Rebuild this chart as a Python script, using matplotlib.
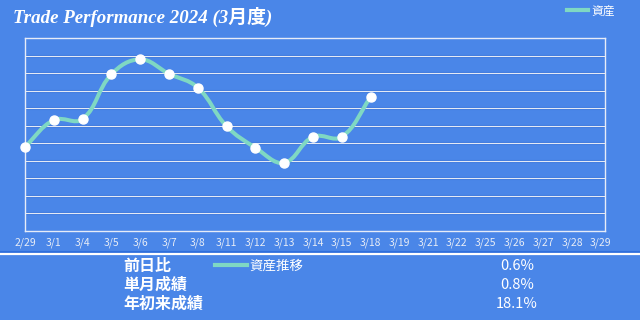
import numpy as np
import matplotlib
matplotlib.use("Agg")
import matplotlib.pyplot as plt
from matplotlib.path import Path
from matplotlib.patches import PathPatch
from matplotlib.lines import Line2D

# data
dates = ["2/29", "3/1", "3/4", "3/5", "3/6", "3/7", "3/8", "3/11", "3/12",
         "3/13", "3/14", "3/15", "3/18", "3/19", "3/21", "3/22", "3/25",
         "3/26", "3/27", "3/28", "3/29"]
assets = [4.80, 6.32, 6.38, 8.93, 9.78, 8.96, 8.17, 5.97, 4.75, 3.89,
          5.37, 5.37, 7.62]
row_labels = ["前日比", "単月成績", "年初来成績"]
row_values = ["0.6%", "0.8%", "18.1%"]

BG = "#4a86e8"
LINE = "#7fd8c3"
CJK = ["Noto Sans CJK JP", "DejaVu Sans"]


def spline_path(ax, xs, ys, t=0.4):
    # chart.js style tension curve, computed in pixel space
    pts = ax.transData.transform(np.column_stack([xs, ys]))
    n = len(pts)
    cps = []
    for i in range(n):
        prev, cur, nxt = pts[max(i - 1, 0)], pts[i], pts[min(i + 1, n - 1)]
        d01 = np.hypot(*(cur - prev))
        d12 = np.hypot(*(nxt - cur))
        s = d01 + d12
        s01 = d01 / s if s else 0
        s12 = d12 / s if s else 0
        cps.append((cur - t * s01 * (nxt - prev), cur + t * s12 * (nxt - prev)))
    verts = [pts[0]]
    codes = [Path.MOVETO]
    for i in range(1, n):
        verts += [cps[i - 1][1], cps[i][0], pts[i]]
        codes += [Path.CURVE4] * 3
    verts = ax.transData.inverted().transform(np.array(verts))
    return Path(verts, codes)


fig = plt.figure(figsize=(6.4, 3.2), dpi=100, facecolor=BG)
ax = fig.add_axes([25 / 640, 89 / 320, 580 / 640, 193 / 320])
ax.set_facecolor(BG)
ax.set_xlim(0, len(dates) - 1 + 0.14)
ax.set_ylim(0, 11)

# grid
for g in range(1, 11):
    ax.axhline(g, color="#2f6fdc", lw=2.2, zorder=1)
    ax.axhline(g, color="#e4eaf5", lw=0.9, zorder=1.1)
for s in ax.spines.values():
    s.set_color("#e6ecf8")
    s.set_linewidth(1.0)

ax.set_xticks(range(len(dates)))
ax.set_xticklabels(dates, fontsize=7.5, color="#e8edf6", family=CJK)
ax.set_yticks([])
ax.tick_params(axis="x", length=0, pad=5)

xs = np.arange(len(assets))
ax.add_patch(PathPatch(spline_path(ax, xs, assets), fill=False,
                       edgecolor=LINE, lw=2.9, capstyle="round", zorder=3))
ax.plot(xs, assets, ls="none", marker="o", ms=6.5, mfc="white",
        mec="white", zorder=4, clip_on=False)

# title
fig.text(13 / 640, 1 - 22.5 / 320, "Trade Performance 2024 (3月度)",
         fontsize=13.6, fontstyle="italic", fontweight="bold", color="white",
         family=["Liberation Serif", "Noto Sans CJK JP"], va="baseline")

# top legend
h = Line2D([], [], color=LINE, lw=3)
fig.legend([h], ["資産"], loc="center left",
           bbox_to_anchor=(567 / 640, 1 - 11 / 320), frameon=False,
           borderpad=0, borderaxespad=0, handlelength=1.8,
           handletextpad=0.25, prop={"family": CJK, "size": 8.5},
           labelcolor="white")

# separator
fig.add_artist(Line2D([0, 1], [1 - 252 / 320] * 2, color="#2f6fdc", lw=1.5,
                      transform=fig.transFigure))
fig.add_artist(Line2D([0, 1], [1 - 254 / 320] * 2, color="white", lw=1.6,
                      transform=fig.transFigure))

# table
row_y = [266, 285, 304]
for lab, val, y in zip(row_labels, row_values, row_y):
    fig.text(123 / 640, 1 - y / 320, lab, fontsize=11.5, fontweight="bold",
             color="white", family=CJK, va="center")
    fig.text(517 / 640, 1 - y / 320, val, fontsize=10.5, color="white",
             family=CJK, va="center", ha="center")

fig.legend([h], ["資産推移"], loc="center left",
           bbox_to_anchor=(215 / 640, 1 - 266 / 320), frameon=False,
           borderpad=0, borderaxespad=0, handlelength=2.4,
           handletextpad=0.15, prop={"family": CJK, "size": 9.7},
           labelcolor="white")

fig.savefig("out.png", dpi=100, facecolor=BG)
